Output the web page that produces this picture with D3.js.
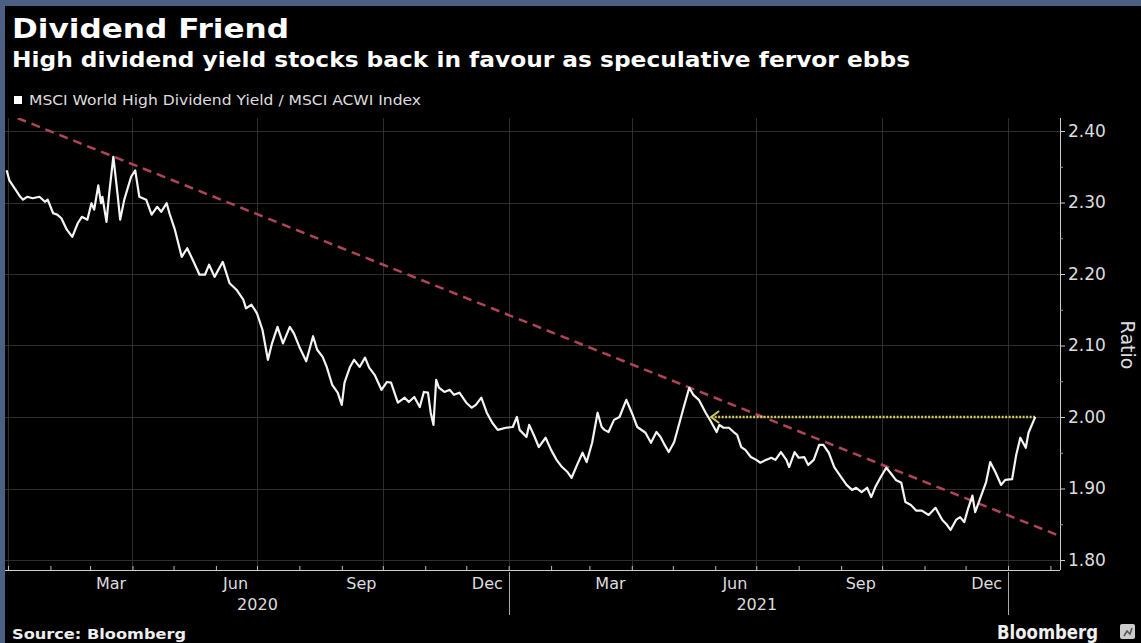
<!DOCTYPE html>
<html>
<head>
<meta charset="utf-8">
<script src="https://cdn.jsdelivr.net/npm/d3@7"></script>
<style>
  html, body { margin: 0; padding: 0; background: #4b6082; }
  svg { display: block; }
  text { font-family: "DejaVu Sans", Verdana, sans-serif; }
</style>
</head>
<body>
<svg id="chart" width="1141" height="643"></svg>
<script>
// MSCI World High Dividend Yield / MSCI ACWI Index ratio
const dates = [
  "2019-12-31","2020-01-02","2020-01-10","2020-01-12","2020-01-15","2020-01-19","2020-01-24","2020-01-28","2020-01-30",
  "2020-02-03","2020-02-06","2020-02-09","2020-02-13","2020-02-17","2020-02-21","2020-02-24","2020-02-28",
  "2020-03-02","2020-03-04","2020-03-07","2020-03-09","2020-03-10","2020-03-13","2020-03-15","2020-03-18","2020-03-21","2020-03-23","2020-03-26","2020-03-31",
  "2020-04-03","2020-04-06","2020-04-11","2020-04-15","2020-04-19","2020-04-22","2020-04-26","2020-04-28",
  "2020-05-02","2020-05-07","2020-05-11","2020-05-15","2020-05-20","2020-05-24","2020-05-27","2020-05-31",
  "2020-06-06","2020-06-11","2020-06-16","2020-06-21","2020-06-23","2020-06-27",
  "2020-07-01","2020-07-05","2020-07-09","2020-07-12","2020-07-16","2020-07-20","2020-07-25","2020-07-28",
  "2020-08-01","2020-08-06","2020-08-11","2020-08-14","2020-08-18","2020-08-21","2020-08-25","2020-08-29",
  "2020-09-01","2020-09-03","2020-09-07","2020-09-10","2020-09-14","2020-09-18","2020-09-21","2020-09-25","2020-09-30",
  "2020-10-04","2020-10-07","2020-10-12","2020-10-17","2020-10-20","2020-10-24","2020-10-28","2020-10-31",
  "2020-11-03","2020-11-05","2020-11-07","2020-11-09","2020-11-11","2020-11-15","2020-11-19","2020-11-22","2020-11-26",
  "2020-12-01","2020-12-05","2020-12-08","2020-12-12","2020-12-16","2020-12-20","2020-12-24","2020-12-30",
  "2021-01-04","2021-01-07","2021-01-09","2021-01-14","2021-01-16","2021-01-20","2021-01-23","2021-01-28",
  "2021-02-01","2021-02-05","2021-02-09","2021-02-13","2021-02-16","2021-02-20","2021-02-24","2021-02-27",
  "2021-03-03","2021-03-07","2021-03-10","2021-03-12","2021-03-15","2021-03-19","2021-03-23","2021-03-28",
  "2021-04-01","2021-04-05","2021-04-11","2021-04-15","2021-04-19","2021-04-22","2021-04-25","2021-04-28",
  "2021-05-02","2021-05-06","2021-05-09","2021-05-13","2021-05-16","2021-05-20","2021-05-25","2021-05-29",
  "2021-06-02","2021-06-04","2021-06-07","2021-06-11","2021-06-15","2021-06-17","2021-06-20","2021-06-23","2021-06-27",
  "2021-07-01","2021-07-04","2021-07-08","2021-07-12","2021-07-15","2021-07-19","2021-07-23","2021-07-25","2021-07-29",
  "2021-08-01","2021-08-05","2021-08-08","2021-08-12","2021-08-16","2021-08-19","2021-08-23","2021-08-27",
  "2021-09-01","2021-09-05","2021-09-09","2021-09-12","2021-09-16","2021-09-20","2021-09-23","2021-09-26","2021-09-30",
  "2021-10-04","2021-10-07","2021-10-11","2021-10-15","2021-10-18","2021-10-22","2021-10-26","2021-10-30",
  "2021-11-04","2021-11-09","2021-11-14","2021-11-17","2021-11-20","2021-11-24","2021-11-27","2021-11-30",
  "2021-12-03","2021-12-06","2021-12-08","2021-12-12","2021-12-16","2021-12-19","2021-12-23","2021-12-27","2021-12-30",
  "2022-01-04","2022-01-07","2022-01-10","2022-01-14","2022-01-16","2022-01-20","2022-01-21"
];
const ratio = [
  2.345,2.331,2.308,2.304,2.308,2.306,2.308,2.301,2.304,
  2.285,2.283,2.278,2.262,2.252,2.271,2.280,2.276,
  2.299,2.290,2.324,2.299,2.308,2.273,2.313,2.364,2.313,2.276,2.304,2.336,
  2.345,2.308,2.304,2.283,2.294,2.287,2.299,2.285,
  2.262,2.224,2.236,2.220,2.199,2.199,2.213,2.196,
  2.217,2.187,2.178,2.164,2.152,2.157,
  2.145,2.122,2.080,2.103,2.126,2.103,2.126,2.117,
  2.098,2.078,2.113,2.094,2.084,2.070,2.045,2.034,
  2.017,2.048,2.070,2.080,2.070,2.083,2.069,2.059,2.038,
  2.049,2.048,2.020,2.027,2.021,2.028,2.014,2.035,
  2.034,2.006,1.989,2.052,2.041,2.035,2.038,2.031,2.034,
  2.020,2.013,2.017,2.027,2.006,1.992,1.982,1.985,
  1.986,2.000,1.982,1.972,1.989,1.972,1.958,1.971,
  1.954,1.940,1.930,1.923,1.915,1.933,1.950,1.937,
  1.964,2.006,1.986,1.982,1.979,1.996,2.000,2.024,
  2.006,1.986,1.978,1.964,1.979,1.972,1.961,1.951,
  1.965,1.993,2.014,2.041,2.031,2.024,2.006,1.993,
  1.979,1.989,1.985,1.985,1.978,1.975,1.958,1.954,1.944,
  1.940,1.936,1.940,1.943,1.940,1.951,1.940,1.930,1.951,
  1.943,1.944,1.933,1.940,1.961,1.961,1.950,1.930,
  1.916,1.905,1.898,1.901,1.895,1.901,1.888,1.902,1.916,
  1.929,1.922,1.912,1.908,1.881,1.877,1.869,1.869,
  1.863,1.873,1.856,1.850,1.842,1.856,1.860,1.853,
  1.873,1.890,1.867,1.888,1.909,1.937,1.922,1.905,1.912,
  1.913,1.947,1.971,1.957,1.978,1.996,2.000
];

// Falling resistance line
const trendDates = ["2020-01-08", "2022-02-06"];
const trendValues = [2.418, 1.835];

// Breakout level marker (arrow points back to the earlier high)
const levelDates = ["2021-05-29", "2022-01-21"];
const levelValue = 2.00;

const yTicks = [1.80, 1.90, 2.00, 2.10, 2.20, 2.30, 2.40];
const yMinorTicks = [1.85, 1.95, 2.05, 2.15, 2.25, 2.35];
const monthLabelDates = ["2020-03-16","2020-06-15","2020-09-15","2020-12-16","2021-03-16","2021-06-15","2021-09-15","2021-12-16"];
const monthLabels = ["Mar","Jun","Sep","Dec","Mar","Jun","Sep","Dec"];
const yearLabelDates = ["2020-07-01","2021-07-01"];
const yearLabels = ["2020","2021"];
const yearBreaks = ["2021-01-01","2022-01-01"];

const parse = d3.utcParse("%Y-%m-%d");

const svg = d3.select("#chart");
const W = 1141, H = 643;
const plot = { left: 5, right: 1060, top: 118, bottom: 570 };

// frame
svg.append("rect").attr("x", 0).attr("y", 0).attr("width", W).attr("height", H).attr("fill", "#4b6082");
svg.append("rect").attr("x", 5).attr("y", 6).attr("width", W - 5).attr("height", H - 6).attr("fill", "#000");

const x = d3.scaleUtc()
  .domain([parse("2020-01-01"), parse("2022-01-01")])
  .range([8, 1008]);
const y = d3.scaleLinear().domain([1.80, 2.40]).range([560, 131]);

// headings
svg.append("text").attr("x", 12).attr("y", 38)
  .attr("fill", "#fff").attr("font-size", 27).attr("font-weight", "bold")
  .attr("textLength", 277).attr("lengthAdjust", "spacingAndGlyphs")
  .text("Dividend Friend");
svg.append("text").attr("x", 12).attr("y", 67)
  .attr("fill", "#fff").attr("font-size", 21).attr("font-weight", "bold")
  .attr("textLength", 898).attr("lengthAdjust", "spacingAndGlyphs")
  .text("High dividend yield stocks back in favour as speculative fervor ebbs");

// legend
svg.append("rect").attr("x", 14).attr("y", 96).attr("width", 8).attr("height", 8).attr("fill", "#fff");
svg.append("text").attr("x", 29).attr("y", 105)
  .attr("fill", "#ddd").attr("font-size", 14)
  .attr("textLength", 392).attr("lengthAdjust", "spacingAndGlyphs")
  .text("MSCI World High Dividend Yield / MSCI ACWI Index");

// grid
const grid = svg.append("g").attr("stroke", "#2e2e2e").attr("stroke-width", 1);
grid.selectAll("line.h").data(yTicks).join("line").attr("class", "h")
  .attr("x1", plot.left).attr("x2", plot.right)
  .attr("y1", d => Math.round(y(d)) + 0.5).attr("y2", d => Math.round(y(d)) + 0.5);
const quarterStarts = d3.utcMonth.every(3).range(parse("2020-01-01"), parse("2022-02-15"));
grid.selectAll("line.v").data(quarterStarts.filter(d => x(d) > plot.left + 2)).join("line").attr("class", "v")
  .attr("x1", d => Math.round(x(d)) + 0.5).attr("x2", d => Math.round(x(d)) + 0.5)
  .attr("y1", plot.top).attr("y2", plot.bottom);

// clip for series
svg.append("clipPath").attr("id", "plotClip").append("rect")
  .attr("x", plot.left).attr("y", plot.top).attr("width", plot.right - plot.left).attr("height", plot.bottom - plot.top);
const g = svg.append("g").attr("clip-path", "url(#plotClip)");

// trend line
const trend = trendDates.map((d, i) => ({ date: parse(d), value: trendValues[i] }));
g.append("path").datum(trend)
  .attr("fill", "none").attr("stroke", "#b0455a").attr("stroke-width", 2.5)
  .attr("stroke-dasharray", "9,6")
  .attr("d", d3.line().x(d => x(d.date)).y(d => y(d.value)));

// breakout level arrow
const lx0 = x(parse(levelDates[0])), lx1 = x(parse(levelDates[1])), ly = y(levelValue);
g.append("line").attr("x1", lx0).attr("x2", lx1).attr("y1", ly).attr("y2", ly)
  .attr("stroke", "#cfc95e").attr("stroke-width", 2.4).attr("stroke-dasharray", "2,1.5");
g.append("path")
  .attr("d", `M${lx0 + 8},${ly - 6} L${lx0},${ly} L${lx0 + 8},${ly + 6}`)
  .attr("fill", "none").attr("stroke", "#cfc95e").attr("stroke-width", 2);

// main series
const series = dates.map((d, i) => ({ date: parse(d), value: ratio[i] }));
g.append("path").datum(series)
  .attr("fill", "none").attr("stroke", "#f4f4f4").attr("stroke-width", 2.2)
  .attr("stroke-linejoin", "round")
  .attr("d", d3.line().x(d => x(d.date)).y(d => y(d.value)));

// right axis
const yAxis = svg.append("g").attr("transform", `translate(${plot.right},0)`)
  .call(d3.axisRight(y).tickValues(yTicks).tickFormat(d3.format(".2f")).tickSize(5).tickPadding(3));
yAxis.select(".domain").attr("d", `M0.5,${plot.top}V${plot.bottom}`).attr("stroke", "#ccc");
yAxis.selectAll(".tick line").attr("stroke", "#ccc");
yAxis.selectAll(".tick text").attr("fill", "#ddd").attr("font-size", 17)
  .attr("font-family", "DejaVu Sans, sans-serif");
svg.append("g").attr("transform", `translate(${plot.right},0)`)
  .call(d3.axisRight(y).tickValues(yMinorTicks).tickFormat("").tickSize(3))
  .call(s => s.select(".domain").remove())
  .selectAll(".tick line").attr("stroke", "#999");

svg.append("text")
  .attr("transform", "translate(1121,345) rotate(90)")
  .attr("text-anchor", "middle").attr("fill", "#ddd").attr("font-size", 19)
  .text("Ratio");

// bottom axis: month ticks pointing up
const monthStarts = d3.utcMonth.range(parse("2020-01-01"), parse("2022-02-15")).filter(d => x(d) > plot.left + 2 && x(d) < plot.right);
const xAxis = svg.append("g").attr("transform", `translate(0,${plot.bottom})`)
  .call(d3.axisTop(x).tickValues(monthStarts).tickFormat("").tickSize(4));
xAxis.select(".domain").attr("d", `M${plot.left},0.5H${plot.right}`).attr("stroke", "#ccc");
xAxis.selectAll(".tick line").attr("stroke", "#bbb");

// month labels
svg.append("g").attr("transform", `translate(0,${plot.bottom})`)
  .call(d3.axisBottom(x).tickValues(monthLabelDates.map(parse)).tickSize(0).tickPadding(8)
    .tickFormat((d, i) => monthLabels[i]))
  .call(s => s.select(".domain").remove())
  .selectAll("text").attr("fill", "#ddd").attr("font-size", 16).attr("font-family", "DejaVu Sans, sans-serif");

// year labels
svg.append("g").attr("transform", `translate(0,${plot.bottom})`)
  .call(d3.axisBottom(x).tickValues(yearLabelDates.map(parse)).tickSize(0).tickPadding(29)
    .tickFormat((d, i) => yearLabels[i]))
  .call(s => s.select(".domain").remove())
  .selectAll("text").attr("fill", "#ddd").attr("font-size", 16).attr("font-family", "DejaVu Sans, sans-serif");

// year separators
svg.append("g").selectAll("line").data(yearBreaks.map(parse)).join("line")
  .attr("x1", d => Math.round(x(d)) + 0.5).attr("x2", d => Math.round(x(d)) + 0.5)
  .attr("y1", plot.bottom + 2).attr("y2", 615)
  .attr("stroke", "#aaa").attr("stroke-width", 1);

// footer
svg.append("text").attr("x", 12).attr("y", 639)
  .attr("fill", "#eee").attr("font-size", 14).attr("font-weight", "bold")
  .attr("textLength", 174).attr("lengthAdjust", "spacingAndGlyphs")
  .text("Source: Bloomberg");
svg.append("text").attr("x", 997).attr("y", 639)
  .attr("fill", "#f0f0f0").attr("font-size", 19).attr("font-weight", 600)
  .attr("textLength", 101).attr("lengthAdjust", "spacingAndGlyphs")
  .text("Bloomberg");
svg.append("rect").attr("x", 1120).attr("y", 624).attr("width", 15).attr("height", 15).attr("rx", 2).attr("fill", "#ccc");
svg.append("path").attr("d", "M1124,636 L1127,631 L1130,634 L1132,628")
  .attr("fill", "none").attr("stroke", "#555").attr("stroke-width", 1.5);
</script>
</body>
</html>
